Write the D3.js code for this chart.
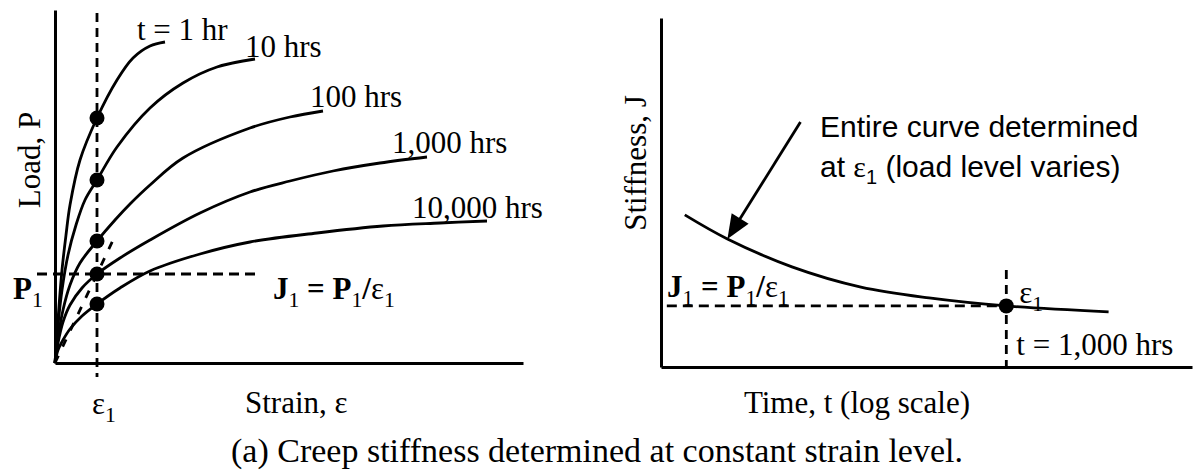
<!DOCTYPE html>
<html><head><meta charset="utf-8">
<script src="https://cdn.jsdelivr.net/npm/d3@7"></script>
<style>
html,body{margin:0;padding:0;background:#fff;}
svg{display:block;}
text{font-family:"Liberation Serif","Times New Roman",serif;fill:#000;}
.sans{font-family:"Liberation Sans",Arial,sans-serif;}
</style></head>
<body>
<svg id="c" width="1193" height="476"></svg>
<script>
// ---------------- DATA ----------------
// Left panel: load vs strain isochrones (arbitrary units)
const curveLabels = ["t = 1 hr", "10 hrs", "100 hrs", "1,000 hrs", "10,000 hrs"];
const creep1hr = [[0,0],[0.3,4.3],[0.7,9.3],[1.1,12.8],[1.5,15.8],[2.5,20.3],[4.2,24.5],[6.2,28.3],[7.8,30.5],[9.5,31.7],[11.0,32.1]];
const creep10hr = [[0,0],[0.3,3.8],[0.7,7.3],[1.3,10.8],[2.1,13.8],[3.0,16.3],[4.2,18.3],[6.2,21.6],[9.5,25.5],[12.8,28.0],[16.2,29.6],[20.0,30.4]];
const creep100hr = [[0,0],[0.3,2.5],[0.8,5.3],[1.5,7.8],[2.5,10.0],[4.2,12.2],[6.0,14.3],[7.5,15.9],[9.5,17.8],[12.8,20.5],[19.5,23.5],[23.5,24.6],[26.8,25.2]];
const creep1000hr = [[0,0],[0.3,2.0],[0.8,4.1],[1.5,5.8],[2.7,7.5],[4.2,8.9],[6.5,10.5],[9.5,12.3],[14.5,15.0],[19.5,17.1],[23.5,18.2],[27.8,19.2],[32.5,20.0],[37.2,20.6]];
const creep10000hr = [[0,0],[0.3,1.3],[0.8,2.3],[1.5,3.4],[2.7,4.7],[4.2,5.9],[6.5,7.5],[9.5,9.2],[14.5,10.9],[19.5,12.1],[26.2,13.0],[32.8,13.7],[38.5,14.0],[43.2,14.2]];
const eps1 = 4.2;
const dotLoads = [24.5, 18.3, 12.2, 8.9, 5.9];
const P1 = 8.9;
const secantEnd = 6.0;   // strain where the dashed secant ends

// Right panel: stiffness vs time (log)
const timeHours = [1, 2.5, 10, 44, 190, 1000, 9000];
const stiffness = [4.36, 3.67, 2.87, 2.29, 1.98, 1.75, 1.58];
const tPoint = 1000;
const J1 = 1.75;
const arrowFrom = [12, 7.02];   // [time, stiffness]
const arrowTo = [2.5, 3.67];

// ---------------- DRAW ----------------
const svg = d3.select("#c");
const DASH = "9,6";
const SW = 2.8;

// ---- left panel
const xL = d3.scaleLinear().domain([0, 46.8]).range([55, 523]);
const yL = d3.scaleLinear().domain([0, 35.3]).range([363, 10]);
const L = svg.append("g");

L.append("g").attr("transform", `translate(0,${yL(0)})`)
  .call(d3.axisBottom(xL).ticks(0).tickSizeOuter(0))
  .call(g => { g.select(".domain").attr("stroke", "#000").attr("stroke-width", 3); g.selectAll(".tick").remove(); });
L.append("g").attr("transform", `translate(${xL(0)},0)`)
  .call(d3.axisLeft(yL).ticks(0).tickSizeOuter(0))
  .call(g => { g.select(".domain").attr("stroke", "#000").attr("stroke-width", 3); g.selectAll(".tick").remove(); });

const lineL = d3.line().x(d => xL(d[0])).y(d => yL(d[1])).curve(d3.curveCatmullRom.alpha(0.5));
const curves = [creep1hr, creep10hr, creep100hr, creep1000hr, creep10000hr];

// dashed guides
L.append("line").attr("x1", xL(eps1)).attr("x2", xL(eps1)).attr("y1", yL(35.0)).attr("y2", yL(-1.4))
  .attr("stroke", "#000").attr("stroke-width", SW).attr("stroke-dasharray", DASH);
L.append("line").attr("x1", xL(-1.8)).attr("x2", xL(20.3)).attr("y1", yL(P1)).attr("y2", yL(P1))
  .attr("stroke", "#000").attr("stroke-width", SW).attr("stroke-dasharray", "10,6");
L.append("line").attr("x1", xL(0)).attr("y1", yL(0))
  .attr("x2", xL(secantEnd)).attr("y2", yL(P1 / eps1 * secantEnd))
  .attr("stroke", "#000").attr("stroke-width", SW).attr("stroke-dasharray", "8,10");

L.selectAll("path.curve").data(curves).join("path").attr("class", "curve")
  .attr("d", lineL).attr("fill", "none").attr("stroke", "#000").attr("stroke-width", SW);

L.selectAll("circle.dot").data(dotLoads).join("circle").attr("class", "dot")
  .attr("cx", xL(eps1)).attr("cy", d => yL(d)).attr("r", 7.5).attr("fill", "#000");

// curve labels relative to curve end points
const labelOffsets = [[-28, -2], [-10, -2], [-13, -4], [-35, -4], [-75, -3]];
L.selectAll("text.clab").data(curves).join("text").attr("class", "clab")
  .attr("x", (d, i) => xL(d[d.length - 1][0]) + labelOffsets[i][0])
  .attr("y", (d, i) => yL(d[d.length - 1][1]) + labelOffsets[i][1])
  .attr("font-size", 31).text((d, i) => curveLabels[i]);

// axis titles
L.append("text").attr("transform", `translate(40,160)rotate(-90)`)
  .attr("text-anchor", "middle").attr("font-size", 31).text("Load, P");
L.append("text").attr("x", 245).attr("y", 413).attr("font-size", 31).text("Strain, ε");

// parts: [text, isSubscript, isBold]
function subText(g, x, y, parts, size) {
  const t = g.append("text").attr("x", x).attr("y", y).attr("font-size", size);
  let down = false;
  parts.forEach(p => {
    const s = t.append("tspan").text(p[0]);
    if (p[1]) {
      s.attr("font-size", size * 0.7);
      if (!down) { s.attr("dy", 8); down = true; }
    } else if (down) { s.attr("dy", -8); down = false; }
    s.attr("font-weight", p[2] ? "bold" : "normal");
  });
  return t;
}
const formula = [["J", 0, 1], ["1", 1, 0], [" = P", 0, 1], ["1", 1, 0], ["/", 0, 1], ["ε", 0, 0], ["1", 1, 0]];
subText(L, xL(eps1) - 5, 414, [["ε"], ["1", 1]], 31);
subText(L, 13, 299, [["P", 0, 1], ["1", 1, 0]], 31);
subText(L, 273, 299, formula, 31);

// ---- right panel
const xR = d3.scaleLog().domain([0.6, 54000]).range([661, 1192]);
const yR = d3.scaleLinear().domain([0, 10]).range([367, 18]);
const R = svg.append("g");
R.append("g").attr("transform", `translate(0,${yR(0)})`)
  .call(d3.axisBottom(xR).ticks(0).tickSizeOuter(0))
  .call(g => { g.select(".domain").attr("stroke", "#000").attr("stroke-width", 3); g.selectAll(".tick").remove(); });
R.append("g").attr("transform", `translate(${xR(0.6)},0)`)
  .call(d3.axisLeft(yR).ticks(0).tickSizeOuter(0))
  .call(g => { g.select(".domain").attr("stroke", "#000").attr("stroke-width", 3); g.selectAll(".tick").remove(); });

R.append("line").attr("x1", xR(0.68)).attr("x2", xR(tPoint)).attr("y1", yR(J1)).attr("y2", yR(J1))
  .attr("stroke", "#000").attr("stroke-width", SW).attr("stroke-dasharray", "10,6");
R.append("line").attr("x1", xR(tPoint)).attr("x2", xR(tPoint)).attr("y1", yR(2.78)).attr("y2", yR(-0.23))
  .attr("stroke", "#000").attr("stroke-width", SW).attr("stroke-dasharray", DASH);

const lineR = d3.line().x(d => xR(d[0])).y(d => yR(d[1])).curve(d3.curveCatmullRom.alpha(0.5));
R.append("path").datum(timeHours.map((t, i) => [t, stiffness[i]]))
  .attr("d", lineR).attr("fill", "none").attr("stroke", "#000").attr("stroke-width", SW);
R.append("circle").attr("cx", xR(tPoint)).attr("cy", yR(J1)).attr("r", 7.5).attr("fill", "#000");

// arrow
const ax0 = xR(arrowFrom[0]), ay0 = yR(arrowFrom[1]), ax1 = xR(arrowTo[0]), ay1 = yR(arrowTo[1]);
const len = Math.hypot(ax1 - ax0, ay1 - ay0), ux = (ax1 - ax0) / len, uy = (ay1 - ay0) / len;
const headL = 24, headW = 10;
const bx = ax1 - ux * headL, by = ay1 - uy * headL;
R.append("line").attr("x1", ax0).attr("y1", ay0).attr("x2", bx + ux * 2).attr("y2", by + uy * 2)
  .attr("stroke", "#000").attr("stroke-width", SW);
R.append("path").attr("d", `M${ax1},${ay1}L${bx - uy * headW},${by + ux * headW}L${bx + uy * headW},${by - ux * headW}Z`)
  .attr("fill", "#000");

// annotations
R.append("text").attr("class", "sans").attr("x", 820).attr("y", 137).attr("font-size", 30).text("Entire curve determined");
const t2 = R.append("text").attr("class", "sans").attr("x", 820).attr("y", 177).attr("font-size", 30);
t2.append("tspan").text("at ");
t2.append("tspan").attr("font-family", "Liberation Serif, serif").text("ε");
t2.append("tspan").attr("dy", 7).attr("font-size", 20).text("1");
t2.append("tspan").attr("dy", -7).text(" (load level varies)");

subText(R, 667, 297, formula, 31);
subText(R, xR(tPoint) + 13, 303, [["ε"], ["1", 1]], 31);
R.append("text").attr("x", xR(tPoint) + 10).attr("y", 355).attr("font-size", 31).text("t = 1,000 hrs");
R.append("text").attr("transform", `translate(646,163)rotate(-90)`).attr("text-anchor", "middle")
  .attr("font-size", 31).text("Stiffness, J");
R.append("text").attr("x", 857).attr("y", 413).attr("text-anchor", "middle").attr("font-size", 31).text("Time, t (log scale)");

// caption
svg.append("text").attr("x", 597).attr("y", 462).attr("text-anchor", "middle").attr("font-size", 34)
  .text("(a) Creep stiffness determined at constant strain level.");
</script>
</body></html>
